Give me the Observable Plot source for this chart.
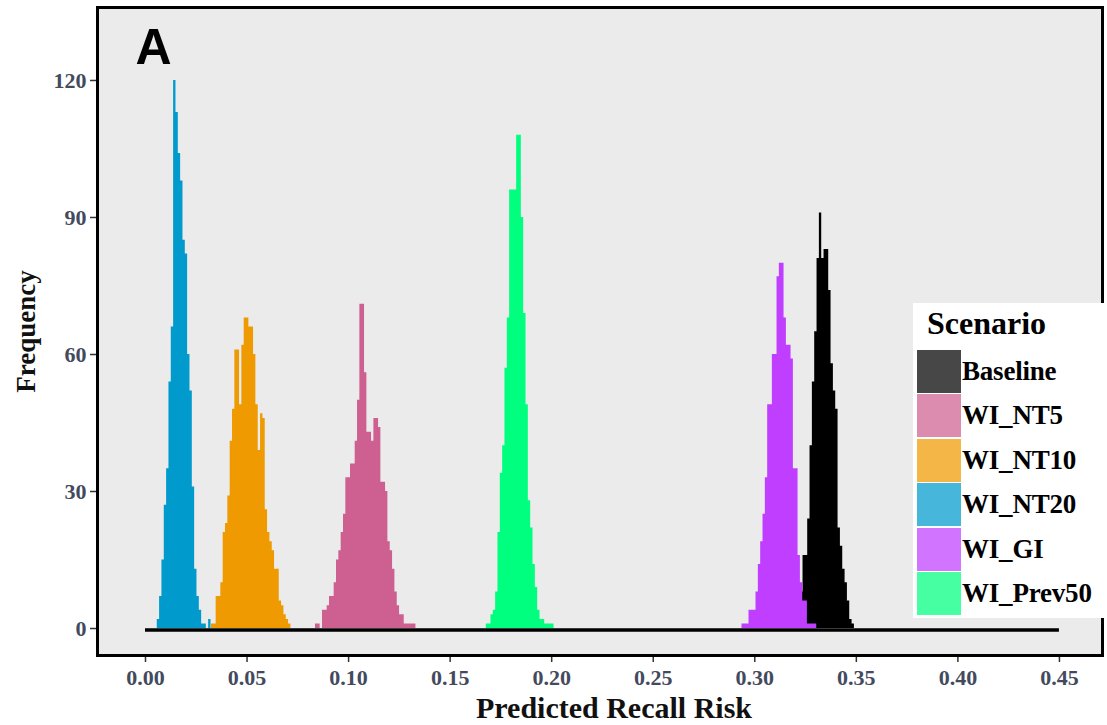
<!DOCTYPE html>
<html>
<head>
<meta charset="utf-8">
<script src="https://cdn.jsdelivr.net/npm/d3@7"></script>
<script src="https://cdn.jsdelivr.net/npm/@observablehq/plot@0.6"></script>
<style>
  html, body { margin: 0; padding: 0; background: #ffffff; overflow: hidden; }
  #wrap { position: relative; width: 1107px; height: 725px; }
  #legend {
    position: absolute; left: 913px; top: 303px; width: 200px; height: 315px;
    background: #ffffff; font-family: "Liberation Serif", serif; font-weight: bold; color: #000;
  }
  #legend .title { position: absolute; left: 14px; top: 0; height: 40px; line-height: 40px; font-size: 32px; }
  #legend .item { position: absolute; left: 4px; height: 44px; display: flex; align-items: center; }
  #legend .sw { width: 44px; height: 43px; margin-right: 1px; }
  #legend .lab { font-size: 27px; white-space: nowrap; letter-spacing: -0.2px; }
</style>
</head>
<body>
<div id="wrap"></div>
<script>
// ---- data ----
const scenarios = ["Baseline", "WI_NT5", "WI_NT10", "WI_NT20", "WI_GI", "WI_Prev50"];
const colors = ["#000000", "#CD6090", "#EE9A00", "#009ACD", "#BF3EFF", "#00FF7F"];
const binWidth = 0.00115;

const baselineStart = 0.318;
const baselineCounts = [1,2,3,5,8,16,16,24,40,54,65,81,91,81,83,83,74,58,52,48,22,18,13,10,6,2,1];

const nt5Start = 0.0837;
const nt5Counts = [1,1,0,4,4,5,7,7,10,15,17,21,25,33,33,36,36,41,50,71,71,56,43,43,41,46,46,44,32,32,30,19,17,13,8,5,3,3,1,1,1,1,1];

const nt10Start = 0.0325;
const nt10Counts = [1,1,7,7,10,21,23,29,41,48,61,61,49,62,68,68,66,66,60,49,39,47,46,26,21,19,17,13,13,6,5,3,2,1];

const nt20Start = 0.0058;
const nt20Counts = [2,7,15,27,35,54,66,120,113,104,98,85,82,60,52,31,13,7,4,1,1,0,2];

const giStart = 0.2937;
const giCounts = [1,1,1,4,4,4,8,14,19,25,33,49,49,60,60,77,80,80,68,62,62,59,35,35,16,10,6,6,1,1,1,1];

const prev50Start = 0.1678;
const prev50Counts = [1,1,3,4,8,21,34,40,57,68,96,96,96,108,108,90,69,49,28,22,14,9,4,2,2,1,1,1,1];

const xTicks = [0, 0.05, 0.10, 0.15, 0.20, 0.25, 0.30, 0.35, 0.40, 0.45];
const yTicks = [0, 30, 60, 90, 120];
const zeroLineExtent = [0, 0.45];

// ---- build histogram step outlines (bin left edges + closing right edge) ----
const series = [
  [scenarios[0], baselineStart, baselineCounts],
  [scenarios[1], nt5Start, nt5Counts],
  [scenarios[2], nt10Start, nt10Counts],
  [scenarios[3], nt20Start, nt20Counts],
  [scenarios[4], giStart, giCounts],
  [scenarios[5], prev50Start, prev50Counts]
];
const histMarks = series.map(([name, start, counts]) => {
  const pts = counts.map((c, i) => ({scenario: name, x: start + i * binWidth, count: c}));
  pts.push({scenario: name, x: start + counts.length * binWidth, count: 0});
  return Plot.areaY(pts, {x: "x", y: "count", fill: "scenario", curve: "step-after"});
});

const tickColor = "#434a5e";

const plot = Plot.plot({
  width: 1107,
  height: 725,
  marginLeft: 97,
  marginRight: 5,
  marginTop: 7,
  marginBottom: 70,
  x: {domain: [-0.02363, 0.4712]},
  y: {domain: [-5.91, 135.98]},
  color: {domain: scenarios, range: colors},
  style: {fontFamily: '"Liberation Serif", serif', fontWeight: "bold", background: "white", overflow: "visible"},
  marks: [
    Plot.frame({fill: "#EBEBEB", stroke: null}),
    ...histMarks,
    Plot.ruleY([0], {x1: zeroLineExtent[0], x2: zeroLineExtent[1], stroke: "black", strokeWidth: 3.5, dy: 1.5}),
    Plot.axisX({ticks: xTicks, tickFormat: d3.format(".2f"), tickSize: 7, tickPadding: 7, fontSize: 22,
      fill: tickColor, stroke: "#333", strokeWidth: 1.5, label: null}),
    Plot.axisY({ticks: yTicks, tickSize: 7, tickPadding: 4, fontSize: 22,
      fill: tickColor, stroke: "#333", strokeWidth: 1.5, label: null}),
    Plot.frame({stroke: "black", strokeWidth: 3}),
    Plot.text(["A"], {frameAnchor: "top-left", dx: 56, dy: 40, textAnchor: "middle", lineAnchor: "middle",
      fontSize: 50, fontFamily: '"Liberation Sans", Arial, sans-serif', fontWeight: "bold", fill: "black"}),
    Plot.text(["Frequency"], {frameAnchor: "left", dx: -71, rotate: -90, textAnchor: "middle", lineAnchor: "middle",
      fontSize: 27, fill: "#111"}),
    Plot.text(["Predicted Recall Risk"], {frameAnchor: "bottom", dx: 14, dy: 53, textAnchor: "middle", lineAnchor: "middle",
      fontSize: 30, fill: "#111"})
  ]
});

const wrap = document.getElementById("wrap");
wrap.appendChild(plot);

// ---- legend ----
const legend = document.createElement("div");
legend.id = "legend";
const title = document.createElement("div");
title.className = "title";
title.textContent = "Scenario";
legend.appendChild(title);
scenarios.forEach((s, i) => {
  const item = document.createElement("div");
  item.className = "item";
  item.style.top = (46 + i * 44.5) + "px";
  const sw = document.createElement("div");
  sw.className = "sw";
  sw.style.background = colors[i];
  sw.style.opacity = 0.72;
  const lab = document.createElement("span");
  lab.className = "lab";
  lab.textContent = s;
  item.appendChild(sw);
  item.appendChild(lab);
  legend.appendChild(item);
});
wrap.appendChild(legend);
</script>
</body>
</html>
